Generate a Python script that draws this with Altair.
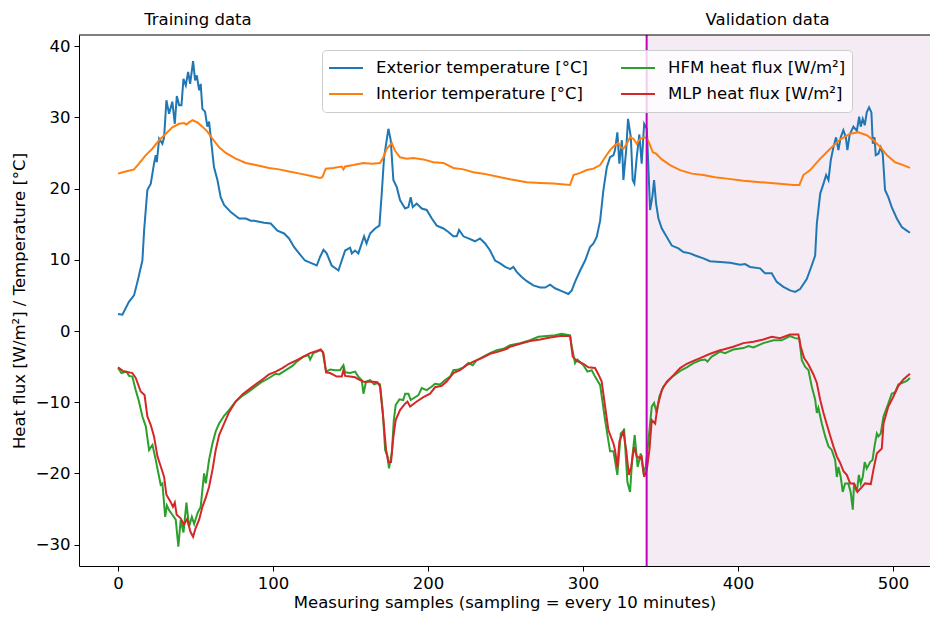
import altair as alt
import pandas as pd

# ---- data (sample index, value) ----
ext_pts = [(0,2.4),(2.8,2.3),(7,4.1),(10.3,5.0),(12.5,6.9),(15.7,9.9),(16.8,14.1),(18.9,19.8),(21.1,20.7),(23.2,23.5),(24.3,24.7),(25.0,23.7),(26.5,27.0),(28.6,26.3),(29.7,27.2),(31.2,32.4),(32.9,30.5),(35.0,32.2),(36.6,29.1),(37.9,33.0),(39.4,31.7),(40.9,31.7),(42.2,35.4),(43.7,34.5),(45.2,36.4),(46.5,34.7),(48.4,37.9),(49.7,35.2),(50.8,35.9),(52.3,33.8),(53.3,34.7),(54.4,31.2),(56.1,30.8),(57.6,28.7),(58.7,29.4),(59.8,27.2),(61.9,23.0),(64.1,21.2),(66.2,18.8),(68.4,17.7),(72.7,16.7),(78.1,15.8),(82.4,15.8),(85.6,15.5),(87.8,15.5),(94.2,15.2),(98.5,15.1),(102.8,14.1),(107.1,13.7),(110.3,13.0),(113.5,11.8),(116.8,10.9),
(120.6,9.9),(123.9,9.6),(128.2,9.2),(130.3,10.4),(132.5,11.4),(134.6,10.9),(137.8,9.2),(142.2,8.5),(144.3,9.9),(146.5,11.3),(149.7,11.7),(150.8,10.9),(152.9,11.3),(155.0,10.9),(157.2,12.3),(158.7,13.3),(160.3,12.3),(162.6,13.7),(165.8,14.4),(168.6,14.8),(170.1,19.3),(171.6,24.4),(174.4,28.4),(175.9,26.8),(177.6,21.2),(179.8,20.2),(181.9,18.4),(185.2,17.2),(187.3,17.4),(188.8,18.8),(190.1,17.4),(192.7,17.9),(195.9,17.2),(199.1,17.0),(202.4,15.8),(205.6,14.8),(209.9,14.4),(213.1,13.9),(216.3,13.3),(218.5,13.3),(220.0,14.2),(222.8,13.3),(226.0,13.0),(230.3,12.6),(233.5,13.0),(236.8,12.3),(240.0,11.3),(243.2,9.9),(246.5,9.5),(249.7,9.0),(252.9,8.7),
(255.0,9.0),(257.2,8.3),(260.4,7.6),(263.7,7.0),(267.9,6.4),(272.3,6.1),(275.5,6.1),(278.7,6.5),(281.9,6.0),(286.2,5.6),(290.5,5.2),(292.7,5.7),(294.8,6.9),(298.1,8.5),(301.3,9.9),(304.5,11.8),(306.7,12.3),(308.8,13.2),(311.0,15.5),(313.1,19.8),(315.3,23.0),(317.4,24.4),(319.6,24.7),(320.6,25.4),(322.1,27.9),(323.4,23.5),(325.0,26.8),(326.0,21.2),(327.8,25.4),(329.0,29.8),(330.8,27.2),(332.0,21.2),(333.1,20.7),(334.6,24.4),(336.3,27.6),(337.8,23.5),(339.4,29.1),(341.1,28.4),(342.2,22.6),(343.2,17.0),(344.7,18.9),(345.8,21.2),(347.1,17.9),(348.6,15.8),(350.8,14.4),(354.0,13.2),(357.2,12.0),(361.5,11.6),(364.7,11.1),(369.0,10.9),(372.3,10.6),(377.6,10.2),(381.9,9.8),
(388.4,9.7),(394.8,9.6),(401.3,9.3),(404.5,9.4),(407.7,9.0),(414.2,8.8),(417.4,8.1),(421.7,8.1),(424.9,6.9),(429.2,6.2),(433.5,5.7),(436.8,5.5),(440.0,5.9),(444.3,7.3),(447.5,9.2),(449.7,10.6),(450.8,15.1),(453.0,19.3),(455.1,20.7),(456.8,21.9),(458.3,21.2),(459.8,24.0),(461.5,25.8),(463.2,27.2),(464.7,25.4),(466.2,27.2),(467.9,28.2),(469.5,27.2),(470.5,25.4),(472.0,27.6),(474.4,28.7),(476.6,28.1),(478.1,30.1),(479.1,28.7),(480.4,29.8),(481.7,28.9),(483.0,30.7),(484.5,31.4),(486.0,30.7),(486.9,26.3),(488.0,27.2),(488.8,24.7),(490.5,24.9),(492.0,25.8),(493.3,24.9),(494.8,19.8),(496.9,18.8),(499.1,17.4),(502.4,15.8),(505.6,14.6),(508.8,14.1),(510.9,13.8)]

int_pts = [(0,22.1),(3,22.3),(10.3,22.7),(13.5,23.5),(17.9,24.7),(22.1,25.6),(26.5,26.8),(30.8,27.7),(35.0,28.6),(39.4,29.1),(42.6,29.2),(44.1,29.0),(45.8,29.3),(48.0,29.6),(51.2,29.3),(54.4,28.7),(57.6,28.0),(60.9,27.0),(65.2,25.8),(69.5,25.0),(75.9,24.2),(82.4,23.6),(88.8,23.3),(97.4,22.9),(103.9,22.7),(110.3,22.4),(117.4,22.1),(123.9,21.8),(130.3,21.5),(131.8,21.6),(134.0,22.8),(138.8,22.9),(144.3,23.1),(145.4,22.7),(146.5,23.1),(151.8,23.3),(158.3,23.6),(163.7,23.5),(169.0,23.6),(171.2,24.4),(173.3,25.6),(176.6,26.4),(178.7,25.3),(181.9,24.4),(186.3,24.2),(190.5,24.3),(197.0,24.1),(203.4,23.7),(209.9,23.6),(216.3,22.9),(222.8,22.7),(229.2,22.3),(235.7,22.1),(244.3,21.7),(252.9,21.3),(263.7,20.9),(272.3,20.8),(280.9,20.7),(291.6,20.5),(293.8,21.9),(298.1,22.2),(302.4,22.6),(306.7,22.8),(311.0,23.3),(314.2,24.4),(317.4,25.4),(320.6,26.1),(322.8,26.4),(324.3,25.8),(326.0,25.6),(328.2,26.3),(330.3,27.2),(332.5,27.0),(334.6,26.3),(336.8,27.0),(339.4,27.2),(341.1,27.1),(342.8,26.3),(345.0,25.1),(347.1,24.9),(350.8,24.1),(356.1,23.3),(362.6,22.6),(370.1,22.1),(377.6,21.9),(385.0,21.6),(392.7,21.4),(403.4,21.1),(414.2,20.9),(424.9,20.7),(435.7,20.5),(439.5,20.5),(442.1,21.9),(446.5,22.6),(453.0,24.2),(459.4,25.6),(465.8,26.9),(472.3,27.7),(477.6,27.9),(483.0,27.5),(487.3,26.8),(492.0,25.8),(495.9,24.7),(501.3,23.7),(506.6,23.3),(510.9,22.9)]

hfm_pts = [(0,-5.2),(2.2,-5.9),(5.4,-5.7),(7.1,-6.3),(9.2,-6.4),(11.4,-8.3),(13.5,-9.9),(15.7,-12.0),(16.8,-12.7),(17.9,-13.4),(20.0,-16.7),(22.2,-16.0),(24.3,-18.1),(26.5,-20.5),(27.5,-21.6),(28.6,-21.4),(30.4,-26.1),(31.5,-24.5),(33.0,-25.2),(35.0,-25.8),(37.2,-26.5),(38.9,-30.3),(40.4,-26.5),(42.2,-28.3),(44.1,-24.1),(45.8,-27.5),(47.6,-26.1),(49.1,-27.1),(51.2,-25.6),(53.3,-24.7),(55.5,-20.0),(56.6,-21.4),(58.7,-18.1),(60.9,-15.8),(63.0,-14.1),(65.2,-13.0),(68.4,-11.9),(71.6,-11.1),(75.9,-9.9),(80.2,-9.1),(84.5,-8.5),(88.8,-7.8),(93.1,-7.1),(97.4,-6.6),(101.7,-6.0),(103.9,-6.1),(108.2,-5.5),(112.5,-4.9),(115.3,-4.3),(119.6,-3.6),(122.8,-3.4),(123.9,-4.0),(126.0,-3.1),(130.3,-2.7),(132.0,-2.9),(134.2,-5.7),(136.8,-5.4),(140.0,-5.5),(143.2,-5.5),(145.4,-4.8),(146.5,-5.8),(149.7,-5.9),(152.9,-5.7),(155.0,-6.4),(157.2,-6.9),(158.3,-8.8),(160.0,-7.1),(162.6,-6.9),(165.2,-7.5),(167.3,-7.3),(169.0,-7.5),(170.7,-11.1),(172.3,-16.7),(173.8,-17.6),(174.8,-19.3),(176.6,-17.1),(177.9,-12.5),(179.1,-10.4),(181.5,-9.6),(184.0,-9.7),(185.2,-8.8),(187.3,-8.8),(188.8,-9.7),(191.6,-9.3),(193.8,-9.0),(195.9,-8.0),(199.1,-8.3),(202.4,-7.8),(204.5,-7.4),(207.7,-7.5),(211.0,-6.9),(214.2,-6.4),(216.3,-5.5),(219.6,-5.4),(222.8,-5.1),(226.0,-4.5),(228.8,-4.8),(231.4,-4.1),(235.7,-3.6),(240.0,-3.1),(244.3,-2.7),(248.6,-2.5),(252.9,-2.0),(259.4,-1.7),(265.8,-1.3),(271.2,-0.8),(276.6,-0.7),(282.0,-0.6),(286.2,-0.4),(291.6,-0.6),(292.7,-2.2),(294.8,-4.5),(296.3,-4.0),(300.2,-4.8),(302.8,-5.7),(305.6,-5.5),(307.7,-6.4),(311.0,-7.6),(314.2,-12.5),(317.4,-16.9),(319.6,-16.9),(322.1,-20.2),(324.3,-14.4),(326.5,-13.9),(328.6,-21.2),(330.3,-22.6),(331.8,-17.6),(333.3,-14.6),(335.2,-19.1),(337.2,-17.2),(338.9,-19.8),(340.4,-19.1),(342.2,-15.3),(344.3,-10.6),(345.8,-10.1),(347.5,-11.5),(349.2,-9.2),(351.8,-7.8),(355.0,-7.0),(358.3,-6.3),(362.6,-5.6),(366.9,-5.1),(371.2,-4.5),(375.5,-4.1),(378.7,-4.0),(380.2,-4.3),(383.0,-3.6),(388.4,-2.9),(391.6,-3.1),(396.9,-2.6),(403.4,-2.4),(406.7,-2.1),(409.9,-2.3),(416.3,-1.7),(422.8,-1.3),(428.1,-1.3),(433.5,-0.7),(436.8,-1.0),(439.5,-1.1),(441.1,-4.1),(443.2,-5.0),(445.4,-5.5),(447.5,-7.8),(449.7,-9.6),(450.8,-11.5),(451.8,-10.8),(454.0,-13.0),(456.2,-14.8),(458.3,-16.2),(460.4,-16.7),(462.6,-18.1),(463.7,-20.5),(464.7,-19.1),(466.2,-20.5),(467.5,-22.6),(469.0,-21.4),(471.1,-21.4),(472.6,-22.6),(474.0,-25.1),(474.8,-21.4),(476.6,-22.6),(477.9,-20.2),(479.1,-21.4),(480.4,-20.5),(481.7,-18.4),(483.0,-19.3),(485.2,-18.4),(486.7,-18.1),(488.0,-16.2),(489.5,-14.4),(490.5,-14.8),(492.0,-14.4),(493.8,-12.0),(496.9,-10.2),(499.1,-8.8),(501.3,-8.6),(503.4,-7.5),(505.6,-7.3),(508.8,-7.0),(510.9,-6.6)]

mlp_pts = [(0,-5.1),(3.0,-5.6),(9.2,-5.9),(11.4,-6.6),(14.6,-8.5),(17.1,-9.0),(18.9,-12.0),(21.1,-13.2),(23.2,-14.8),(25.4,-17.6),(27.5,-19.0),(29.7,-20.5),(31.2,-23.0),(33.9,-24.0),(35.4,-24.7),(36.6,-24.1),(37.8,-25.8),(40.4,-26.3),(42.4,-27.2),(44.5,-26.4),(46.7,-28.2),(48.4,-28.9),(50.0,-27.7),(52.3,-26.5),(54.4,-24.7),(56.6,-23.4),(58.7,-21.9),(60.9,-19.5),(63.0,-16.7),(65.2,-14.6),(68.4,-13.0),(71.6,-11.4),(75.9,-9.9),(80.2,-8.9),(84.5,-8.2),(88.8,-7.5),(93.1,-6.8),(97.4,-6.1),(101.7,-5.7),(106.0,-5.2),(110.3,-4.6),(115.3,-4.1),(119.6,-3.6),(123.9,-3.1),(128.2,-2.8),(130.8,-2.6),(132.5,-3.1),(134.2,-5.8),(136.8,-5.9),(141.1,-6.4),(144.3,-6.4),(145.4,-5.5),(146.5,-6.3),(149.7,-6.4),(152.9,-6.5),(156.1,-6.9),(159.4,-7.2),(162.6,-7.1),(167.3,-7.2),(169.0,-7.8),(171.2,-12.5),(172.9,-16.7),(174.4,-18.4),(176.1,-18.4),(177.6,-14.9),(179.1,-12.5),(181.9,-11.1),(185.2,-10.2),(186.7,-9.9),(188.4,-10.6),(192.7,-9.9),(197.0,-9.3),(201.3,-8.8),(204.5,-7.9),(208.8,-7.7),(212.0,-7.1),(216.3,-5.9),(220.6,-5.5),(224.9,-4.8),(229.2,-4.3),(234.6,-3.8),(240.0,-3.2),(245.4,-2.9),(250.8,-2.5),(252.9,-2.2),(259.4,-1.8),(265.8,-1.4),(272.3,-1.2),(278.7,-0.9),(285.2,-0.7),(291.6,-0.7),(293.3,-3.6),(295.9,-4.2),(300.2,-4.6),(303.4,-5.1),(307.7,-5.2),(309.9,-6.1),(312.0,-7.1),(314.2,-10.6),(316.3,-13.9),(319.6,-15.8),(320.6,-16.7),(322.1,-19.1),(323.4,-15.5),(326.0,-14.1),(327.8,-16.7),(329.5,-20.2),(331.0,-19.1),(332.9,-16.3),(334.6,-17.6),(336.3,-17.8),(337.8,-17.6),(339.4,-20.5),(341.1,-19.5),(342.8,-16.7),(344.3,-12.5),(346.5,-13.0),(348.0,-10.6),(350.8,-8.3),(354.0,-7.1),(358.3,-6.2),(362.6,-5.2),(366.9,-4.6),(371.2,-4.2),(375.5,-3.8),(382.0,-3.2),(388.4,-2.7),(390.5,-2.6),(396.9,-2.2),(403.4,-1.7),(409.9,-1.5),(416.3,-1.2),(421.7,-0.8),(427.1,-1.0),(433.5,-0.5),(438.9,-0.5),(440.4,-2.2),(442.6,-3.8),(445.4,-4.7),(448.6,-6.1),(450.8,-7.3),(452.9,-9.6),(455.1,-11.5),(457.2,-13.1),(459.4,-14.7),(461.5,-16.2),(463.7,-17.6),(465.8,-18.5),(468.0,-19.7),(470.1,-20.2),(472.3,-21.4),(474.8,-21.4),(477.0,-22.6),(479.1,-22.1),(481.9,-21.4),(485.6,-21.5),(487.3,-19.5),(489.5,-17.2),(492.7,-16.5),(493.8,-13.0),(496.9,-10.6),(500.2,-9.2),(503.4,-7.7),(506.6,-6.8),(510.9,-6.0)]

EXT = "Exterior temperature [°C]"
INT = "Interior temperature [°C]"
HFM = "HFM heat flux [W/m²]"
MLP = "MLP heat flux [W/m²]"

legend_order = [EXT, INT, HFM, MLP]          # legend fills column by column
legend_colors = ["#1f77b4", "#ff7f0e", "#2ca02c", "#d62728"]
draw_order = [EXT, INT, HFM, MLP]

split_x = [341]
region_labels = ["Training data", "Validation data"]
region_label_x = [51.5, 419]
x_ticks = [0, 100, 200, 300, 400, 500]
y_ticks = [-30, -20, -10, 0, 10, 20, 30, 40]
x_domain = [-25.2, 523.8]
y_domain = [-33.0, 41.57]

W, H = 851, 531
FONT = "DejaVu Sans"
FS = 16.5

rows = []
for name, pts in [(EXT, ext_pts), (INT, int_pts), (HFM, hfm_pts), (MLP, mlp_pts)]:
    for x, y in pts:
        rows.append({"series": name, "x": x, "y": y})
df = pd.DataFrame(rows)

xscale = alt.Scale(domain=x_domain, nice=False, zero=False)
yscale = alt.Scale(domain=y_domain, nice=False, zero=False)
xaxis = alt.Axis(values=x_ticks, format="d", title="Measuring samples (sampling = every 10 minutes)")
yaxis = alt.Axis(values=y_ticks, format="d", title="Heat flux [W/m²] / Temperature [°C]")
color = alt.Color(
    "series:N",
    scale=alt.Scale(domain=legend_order, range=legend_colors),
    legend=alt.Legend(
        title=None, orient="none", legendX=243, legendY=15, columns=2,
        symbolType="stroke", symbolStrokeWidth=2, symbolSize=1156, clipHeight=24,
        labelFontSize=FS, labelFont=FONT, labelColor="black", labelLimit=400,
        columnPadding=32, rowPadding=2, labelOffset=12, padding=6,
        fillColor="rgba(255,255,255,0.8)", strokeColor="#cccccc", cornerRadius=4,
    ),
)

shade = alt.Chart(pd.DataFrame({"x": split_x, "x2": [x_domain[1]]})).mark_rect(
    color="#800080", opacity=0.08
).encode(x=alt.X("x:Q", scale=xscale, axis=xaxis), x2="x2:Q", y=alt.value(0), y2=alt.value(H))

lines = [
    alt.Chart(df).transform_filter(alt.datum.series == name).mark_line(strokeWidth=2).encode(
        x=alt.X("x:Q", scale=xscale, axis=xaxis),
        y=alt.Y("y:Q", scale=yscale, axis=yaxis),
        color=color,
    )
    for name in draw_order
]

vrule = alt.Chart(pd.DataFrame({"x": split_x})).mark_rule(color="#bf00bf", strokeWidth=2).encode(
    x=alt.X("x:Q", scale=xscale)
)

topline = alt.Chart(pd.DataFrame({"a": [0]})).mark_rule(color="black", strokeWidth=1).encode(
    x=alt.value(0), x2=alt.value(W), y=alt.value(0)
)

labels = alt.Chart(pd.DataFrame({"x": region_label_x, "label": region_labels})).mark_text(
    font=FONT, fontSize=FS, color="black", align="center", baseline="middle"
).encode(x=alt.X("x:Q", scale=xscale), y=alt.value(-15), text="label:N")

chart = alt.layer(shade, *lines, vrule, topline, labels).properties(
    width=W, height=H,
    autosize=alt.AutoSizeParams(type="none"),
    padding={"left": 71, "top": 27, "right": 0, "bottom": 45},
    background="white",
).configure_view(strokeWidth=0).configure_axis(
    grid=False, domainColor="black", tickColor="black", labelColor="black", titleColor="black",
    domainWidth=1, tickWidth=1, tickSize=5, labelPadding=4,
    labelFont=FONT, titleFont=FONT, labelFontSize=FS, titleFontSize=FS, titleFontWeight="normal",
).configure_axisX(titlePadding=3).configure_axisY(titlePadding=8)

chart.save("out.html", embed_options={"renderer": "svg", "actions": False})
